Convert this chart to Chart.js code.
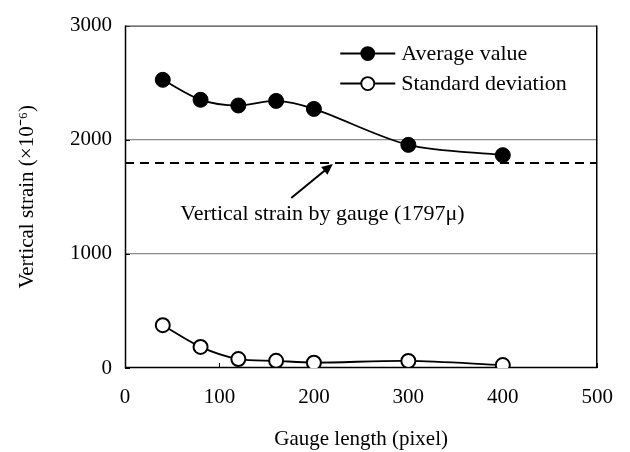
<!DOCTYPE html>
<html>
<head>
<meta charset="utf-8">
<script src="https://cdn.jsdelivr.net/npm/chart.js@4/dist/chart.umd.min.js"></script>
<style>
html,body{margin:0;padding:0;background:#fff;}
#wrap{width:630px;height:452px;}
</style>
</head>
<body>
<div id="wrap"><canvas id="c" width="630" height="452"></canvas></div>
<script>
const gaugeLengths = [40, 80, 120, 160, 200, 300, 400];
const averageValues = [2525, 2350, 2300, 2340, 2270, 1955, 1865];
const stdDeviations = [375, 185, 78, 63, 47, 62, 26];
const gaugeStrain = 1797;
const xTicks = [0, 100, 200, 300, 400, 500];
const yTicks = [0, 1000, 2000, 3000];
const seriesNames = ['Average value', 'Standard deviation'];
const annotationText = 'Vertical strain by gauge (1797\u03bc)';
const xTitle = 'Gauge length (pixel)';
const yTitle = 'Vertical strain (\u00d710\u207b\u2076)';

const FONT = '"Liberation Serif", "Times New Roman", serif';

const avgData = gaugeLengths.map((x, i) => ({x, y: averageValues[i]}));
const sdData = gaugeLengths.map((x, i) => ({x, y: stdDeviations[i]}));
const gaugeData = [{x: xTicks[0], y: gaugeStrain}, {x: xTicks[xTicks.length - 1], y: gaugeStrain}];

const decor = {
  id: 'decor',
  beforeDatasetsDraw(chart) {
    const {ctx, chartArea: a, scales: {x, y}} = chart;
    ctx.save();
    ctx.strokeStyle = '#000';
    ctx.lineWidth = 1;
    xTicks.forEach(v => {
      const px = Math.round(x.getPixelForValue(v)) + 0.5;
      ctx.beginPath(); ctx.moveTo(px, a.bottom); ctx.lineTo(px, a.bottom - 5); ctx.stroke();
    });
    yTicks.forEach(v => {
      const py = Math.round(y.getPixelForValue(v)) + 0.5;
      ctx.beginPath(); ctx.moveTo(a.left, py); ctx.lineTo(a.left + 5, py); ctx.stroke();
    });
    ctx.strokeStyle = '#444';
    ctx.lineWidth = 1.2;
    ctx.beginPath();
    ctx.moveTo(a.left, a.top + 0.5); ctx.lineTo(a.right - 0.5, a.top + 0.5);
    ctx.stroke();
    ctx.strokeStyle = '#000';
    ctx.lineWidth = 1.5;
    ctx.beginPath();
    ctx.moveTo(a.right - 0.5, a.top); ctx.lineTo(a.right - 0.5, a.bottom);
    ctx.moveTo(a.left + 0.5, a.top); ctx.lineTo(a.left + 0.5, a.bottom - 0.5); ctx.lineTo(a.right, a.bottom - 0.5);
    ctx.stroke();
    ctx.restore();
  },
  afterDatasetsDraw(chart) {
    const {ctx, chartArea: a, scales: {x, y}} = chart;
    ctx.save();
    const x0 = x.getPixelForValue(176), y0 = y.getPixelForValue(1490);
    const x1 = x.getPixelForValue(220), y1 = y.getPixelForValue(gaugeStrain) + 1;
    ctx.strokeStyle = '#000'; ctx.fillStyle = '#000'; ctx.lineWidth = 2;
    const ang = Math.atan2(y1 - y0, x1 - x0);
    ctx.beginPath(); ctx.moveTo(x0, y0); ctx.lineTo(x1 - 6 * Math.cos(ang), y1 - 6 * Math.sin(ang)); ctx.stroke();
    ctx.beginPath();
    ctx.moveTo(x1, y1);
    ctx.lineTo(x1 - 11 * Math.cos(ang) + 5 * Math.sin(ang), y1 - 11 * Math.sin(ang) - 5 * Math.cos(ang));
    ctx.lineTo(x1 - 11 * Math.cos(ang) - 5 * Math.sin(ang), y1 - 11 * Math.sin(ang) + 5 * Math.cos(ang));
    ctx.closePath(); ctx.fill();
    ctx.font = '22px ' + FONT;
    ctx.textAlign = 'center'; ctx.textBaseline = 'middle';
    ctx.fillText(annotationText, x.getPixelForValue(209), y.getPixelForValue(1345));
    const lx0 = a.right - 257, lx1 = a.right - 202, tx = a.right - 196;
    const rows = [a.top + 28, a.top + 58];
    rows.forEach((ly, i) => {
      ctx.strokeStyle = '#000'; ctx.lineWidth = 2;
      ctx.beginPath(); ctx.moveTo(lx0, ly); ctx.lineTo(lx1, ly); ctx.stroke();
      ctx.beginPath(); ctx.arc((lx0 + lx1) / 2, ly, 6.5, 0, Math.PI * 2);
      ctx.fillStyle = i === 0 ? '#000' : '#fff';
      ctx.fill(); ctx.lineWidth = 1.8; ctx.stroke();
      ctx.fillStyle = '#000';
      ctx.textAlign = 'left'; ctx.textBaseline = 'middle';
      ctx.fillText(seriesNames[i], tx, ly + 1);
    });
    ctx.restore();
  }
};

new Chart(document.getElementById('c'), {
  type: 'line',
  data: {
    datasets: [
      {label: 'gauge', data: gaugeData, borderColor: '#000', borderWidth: 2, borderDash: [9, 6], pointRadius: 0, tension: 0},
      {label: seriesNames[0], data: avgData, borderColor: '#000', backgroundColor: '#000', borderWidth: 1.8,
       pointRadius: 7.5, pointBorderWidth: 1, pointBackgroundColor: '#000', tension: 0.3},
      {label: seriesNames[1], data: sdData, borderColor: '#000', backgroundColor: '#fff', borderWidth: 1.8,
       pointRadius: 7, pointBorderWidth: 2, pointBackgroundColor: '#fff', tension: 0.3}
    ]
  },
  options: {
    responsive: false,
    animation: false,
    events: [],
    layout: {padding: {top: 20, right: 27, left: 0, bottom: 0}},
    plugins: {legend: {display: false}, tooltip: {enabled: false}},
    scales: {
      x: {
        type: 'linear', min: 0, max: 500,
        afterBuildTicks: s => { s.ticks = xTicks.map(v => ({value: v})); },
        afterFit: s => { s.height = 84; },
        grid: {display: false, drawTicks: false},
        border: {display: false},
        ticks: {color: '#000', font: {family: FONT, size: 21}, padding: 17, maxRotation: 0, callback: v => String(v)},
        title: {display: true, text: xTitle, color: '#000', font: {family: FONT, size: 21}, padding: {top: 0, bottom: 0}}
      },
      y: {
        type: 'linear', min: 0, max: 3000,
        afterBuildTicks: s => { s.ticks = yTicks.map(v => ({value: v})); },
        afterFit: s => { s.width = 125; },
        grid: {drawTicks: false, color: c => (c.tick && (c.tick.value === 1000 || c.tick.value === 2000)) ? '#8a8a8a' : 'rgba(0,0,0,0)', lineWidth: 1.2},
        border: {display: false},
        ticks: {color: '#000', font: {family: FONT, size: 21}, padding: 13, callback: v => String(v)},
        title: {display: true, text: yTitle, color: '#000', font: {family: FONT, size: 21}, padding: {top: 15, bottom: 0}}
      }
    }
  },
  plugins: [decor]
});
</script>
</body>
</html>
